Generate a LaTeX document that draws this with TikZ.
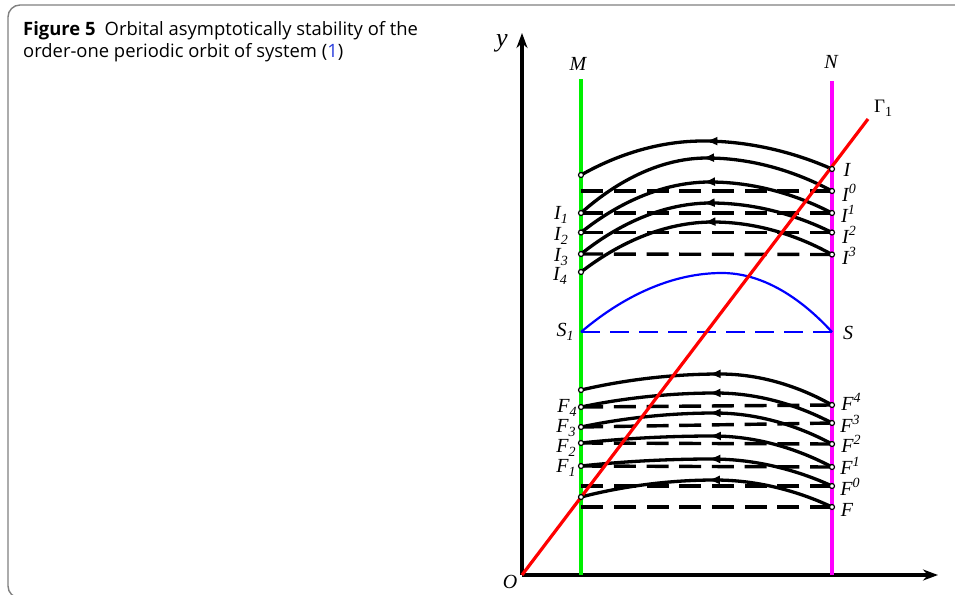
\documentclass[tikz,border=0pt]{standalone}
\usepackage{fontspec}
\setmainfont{Liberation Serif}
\newfontfamily\capfont{Open Sans}
\usetikzlibrary{arrows.meta,decorations.markings}
\definecolor{framegray}{RGB}{128,128,128}
\definecolor{linkblue}{RGB}{40,60,220}
\definecolor{mgreen}{RGB}{0,240,0}
\definecolor{mmag}{RGB}{255,0,255}
\newcommand\mysub[1]{\raisebox{-0.45ex}{\fontsize{14}{14}\selectfont #1}}
\newcommand\mysup[1]{\raisebox{0.85ex}{\fontsize{14}{14}\selectfont #1}}
\begin{document}
\begin{tikzpicture}[x=1pt,y=-1pt,
  orbit/.style={line width=3.3pt,black,
    postaction={decorate},
    decoration={markings,mark=at position 0.5 with {\arrow{Latex[length=12pt,width=9pt]}}}},
  dashline/.style={line width=3.4pt,black,dash pattern=on 22pt off 10.7pt},
  axis/.style={line width=3.2pt,black,-{Stealth[length=15pt,width=11pt]}},
  lab/.style={font=\fontsize{20}{20}\selectfont\itshape,inner sep=0pt},
  dot/.style={circle,draw=black,fill=white,line width=1.2pt,inner sep=0pt,minimum size=5pt}]
\useasboundingbox (0,0) rectangle (955,594);
% frame
\draw[framegray,line width=1.4pt,rounded corners=12pt] (970,598) -- (8,598) -- (8,5) -- (970,5);
% caption
\node[anchor=base west,inner sep=0pt,font=\capfont\fontsize{18.4}{22}\selectfont] (cap1) at (23,36)
  {\textbf{Figure 5}\hspace{0.5em}Orbital asymptotically stability of the};
\node[anchor=base west,inner sep=0pt,font=\capfont\fontsize{18.4}{22}\selectfont] (cap2) at (23,58)
  {order-one periodic orbit of system (\textcolor{linkblue}{1})};
% axes
\coordinate (O) at (522,575);
\coordinate (ytip) at (522,33);
\coordinate (xtip) at (938,575);
\draw[axis] (O) -- (ytip);
\draw[axis] (O) -- (xtip);
\node[font=\fontsize{26}{26}\selectfont\itshape,inner sep=0pt] (ylab) at (502,43) {y};
\node[lab] (olab) at (510,582) {O};
% verticals
\coordinate (Mtop) at (581,79);
\coordinate (Mbot) at (581,575);
\coordinate (Ntop) at (832,81);
\coordinate (Nbot) at (832,575);
\draw[mgreen,line width=4.5pt] (Mtop) -- (Mbot);
\draw[mmag,line width=4.5pt] (Ntop) -- (Nbot);
\node[lab] (Mlab) at (578,64) {M};
\node[lab] (Nlab) at (831,62) {N};
% points on M
\coordinate (la) at (581,175);
\coordinate (i1) at (581,213);
\coordinate (i2) at (581,232.5);
\coordinate (i3) at (581,254);
\coordinate (i4) at (581,272);
\coordinate (s1) at (581,332);
\coordinate (lb) at (581,390);
\coordinate (f4) at (581,407);
\coordinate (f3) at (581,427);
\coordinate (f2) at (581,443);
\coordinate (f1) at (581,466);
\coordinate (dl0) at (581,191);
\coordinate (dlf0) at (581,486);
\coordinate (lc) at (581,497);
\coordinate (dlf) at (581,507);
% points on N
\coordinate (ri) at (832,169);
\coordinate (ri0) at (832,191);
\coordinate (ri1) at (832,213);
\coordinate (ri2) at (832,232.5);
\coordinate (ri3) at (832,254.5);
\coordinate (rs) at (832,332);
\coordinate (rf4) at (832,405);
\coordinate (rf3) at (832,423);
\coordinate (rf2) at (832,444);
\coordinate (rf1) at (832,467);
\coordinate (rf0) at (832,486);
\coordinate (rf) at (832,507);
% peaks
\coordinate (pa) at (703,141);
\coordinate (pb) at (707,158);
\coordinate (pc) at (710,182);
\coordinate (pd) at (711,203);
\coordinate (pe) at (713,222);
\coordinate (ps) at (722,273);
\coordinate (qa) at (720,374);
\coordinate (qb) at (716,393);
\coordinate (qc) at (715,413);
\coordinate (qd) at (713,436);
\coordinate (qe) at (712,459);
\coordinate (qf) at (715,480);
% dashed lines
\draw[dashline] (ri0) -- (dl0);
\draw[dashline] (ri1) -- (i1);
\draw[dashline] (ri2) -- (i2);
\draw[dashline] (ri3) -- (i3);
\draw[dashline] (rf4) -- (f4);
\draw[dashline] (rf3) -- (f3);
\draw[dashline] (rf2) -- (f2);
\draw[dashline] (rf1) -- (f1);
\draw[dashline] (rf0) -- (dlf0);
\draw[dashline] (rf) -- (dlf);
% orbits
\draw[orbit] (ri) parabola bend (pa) (la);
\draw[orbit] (ri0) parabola bend (pb) (i1);
\draw[orbit] (ri1) parabola bend (pc) (i2);
\draw[orbit] (ri2) parabola bend (pd) (i3);
\draw[orbit] (ri3) parabola bend (pe) (i4);
\draw[orbit] (rf4) parabola bend (qa) (lb);
\draw[orbit] (rf3) parabola bend (qb) (f4);
\draw[orbit] (rf2) parabola bend (qc) (f3);
\draw[orbit] (rf1) parabola bend (qd) (f2);
\draw[orbit] (rf0) parabola bend (qe) (f1);
\draw[orbit] (rf) parabola bend (qf) (lc);
% blue orbit
\draw[blue,line width=2.2pt] (rs) parabola bend (ps) (s1);
\draw[blue,line width=2.2pt,dash pattern=on 19pt off 10pt] (s1) -- (rs);
% Gamma_1
\coordinate (gend) at (868,119);
\draw[red,line width=3.2pt] (O) -- (gend);
\node[font=\fontsize{19}{19}\selectfont,inner sep=0pt] (glab) at (883,108) {Γ\mysub{1}};
% dots
\foreach \p in {la,i1,i2,i3,i4,lb,f4,f3,f2,f1,lc,ri,ri0,ri1,ri2,ri3,rf4,rf3,rf2,rf1,rf0,rf}
  \node[dot] at (\p) {};
% left labels
\node[lab] (I1) at (561,215) {I\mysub{1}};
\node[lab] (I2) at (561,236) {I\mysub{2}};
\node[lab] (I3) at (561,257) {I\mysub{3}};
\node[lab] (I4) at (560,276) {I\mysub{4}};
\node[lab] (S1) at (565,332) {S\mysub{1}};
\node[lab] (F4) at (567,408) {F\mysub{4}};
\node[lab] (F3) at (566,428) {F\mysub{3}};
\node[lab] (F2) at (566,448) {F\mysub{2}};
\node[lab] (F1) at (566,468) {F\mysub{1}};
% right labels
\node[lab] (Ilab) at (847,170) {I};
\node[lab] (I0r) at (849,193) {I\mysup{0}};
\node[lab] (I1r) at (848,214) {I\mysup{1}};
\node[lab] (I2r) at (849,235) {I\mysup{2}};
\node[lab] (I3r) at (849,256) {I\mysup{3}};
\node[lab] (Slab) at (848,333) {S};
\node[lab] (F4r) at (851,402) {F\mysup{4}};
\node[lab] (F3r) at (850,424) {F\mysup{3}};
\node[lab] (F2r) at (851,444) {F\mysup{2}};
\node[lab] (F1r) at (850,466) {F\mysup{1}};
\node[lab] (F0r) at (850,487) {F\mysup{0}};
\node[lab] (Flab) at (847,510) {F};
\end{tikzpicture}
\end{document}
